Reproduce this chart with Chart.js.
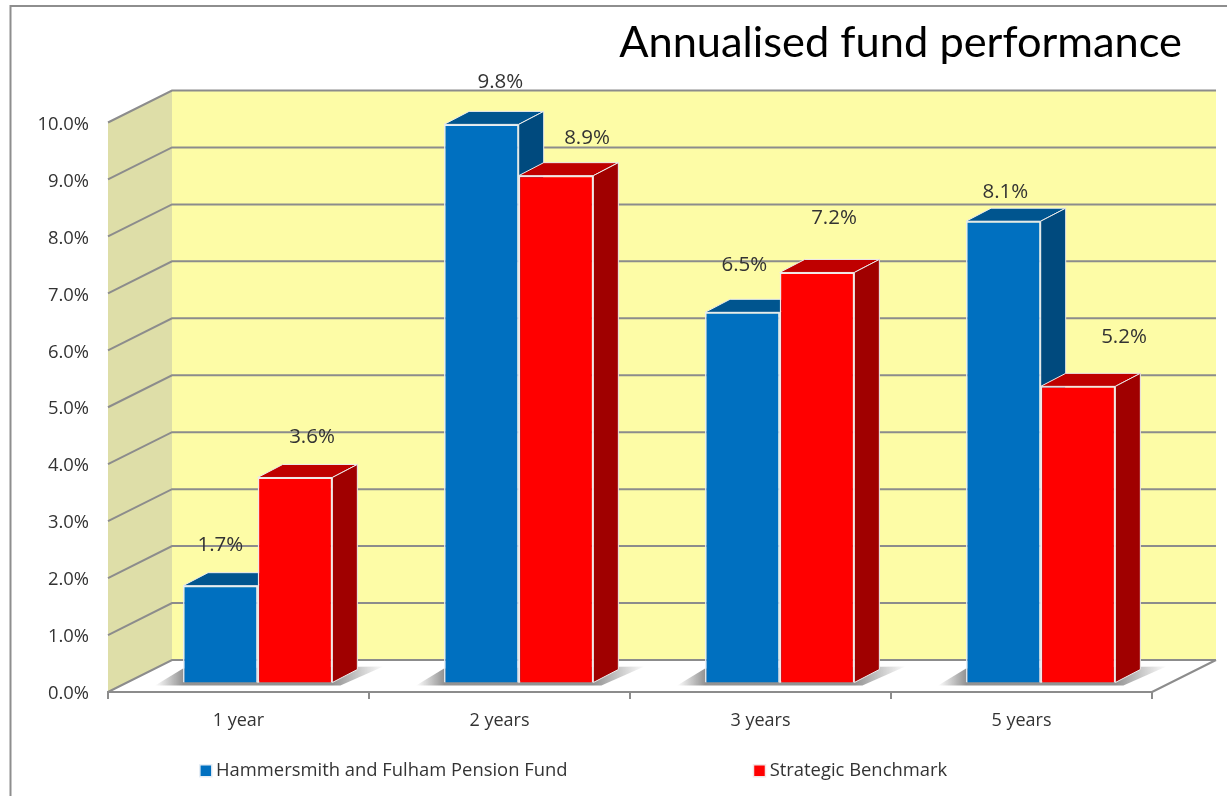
<!DOCTYPE html>
<html lang="en">
<head>
  <meta charset="UTF-8" />
  <title>Annualised fund performance</title>
  <script src="https://cdn.jsdelivr.net/npm/chart.js"></script>
  <style>
    html, body { margin: 0; padding: 0; background: #fff; }
    canvas { display: block; }
  </style>
</head>
<body>
  <canvas id="fundChart" width="1227" height="796"></canvas>

  <script>
    const categories = ['1 year', '2 years', '3 years', '5 years'];
    const fundValues = [1.7, 9.8, 6.5, 8.1];
    const benchmarkValues = [3.6, 8.9, 7.2, 5.2];
    const yTickLabels = ['0.0%', '1.0%', '2.0%', '3.0%', '4.0%', '5.0%', '6.0%', '7.0%', '8.0%', '9.0%', '10.0%'];

    // the labels were moved by hand in the original, so each one has its own nudge
    const fundLabelNudge = [[0, -41], [19, -42], [2, -47], [2, -29]];
    const benchmarkLabelNudge = [[17, -40], [31, -37], [17, -54], [46, -49]];

    const WALL_DX = 64, WALL_DY = -32;   // back wall offset
    const BAR_DX = 19.2, BAR_DY = -9.5;  // bars stand part way back on the floor
    const SIDE_DX = 25, SIDE_DY = -13;   // bar depth
    const GRID = '#8c8c8c';
    const TEXT = '#333333';
    const FONT = '"Open Sans", sans-serif';

    function poly(ctx, pts, fill, stroke) {
      ctx.beginPath();
      pts.forEach((p, i) => i ? ctx.lineTo(p[0], p[1]) : ctx.moveTo(p[0], p[1]));
      ctx.closePath();
      if (fill) { ctx.fillStyle = fill; ctx.fill(); }
      if (stroke) { ctx.strokeStyle = stroke; ctx.lineWidth = 1; ctx.stroke(); }
    }

    function drawWalls(chart) {
      const { ctx, chartArea: a, scales: { y } } = chart;
      poly(ctx, [[a.left, a.top], [a.left + WALL_DX, a.top + WALL_DY], [a.left + WALL_DX, a.bottom + WALL_DY], [a.left, a.bottom]], '#dedea8');
      poly(ctx, [[a.left + WALL_DX, a.top + WALL_DY], [a.right + WALL_DX, a.top + WALL_DY], [a.right + WALL_DX, a.bottom + WALL_DY], [a.left + WALL_DX, a.bottom + WALL_DY]], '#fdfca6');

      ctx.strokeStyle = GRID;
      ctx.lineWidth = 2;
      y.ticks.forEach((t, i) => {
        const py = y.getPixelForTick(i);
        ctx.beginPath();
        ctx.moveTo(a.left, py);
        ctx.lineTo(a.left + WALL_DX, py + WALL_DY);
        ctx.lineTo(a.right + WALL_DX, py + WALL_DY);
        ctx.stroke();
      });
      ctx.beginPath();
      ctx.moveTo(a.right, a.bottom);
      ctx.lineTo(a.right + WALL_DX, a.bottom + WALL_DY);
      ctx.stroke();
    }

    function drawShadows(chart) {
      const { ctx } = chart;
      const first = chart.getDatasetMeta(0).data;
      const second = chart.getDatasetMeta(1).data;
      first.forEach((bar, i) => {
        const L = bar.x - bar.width / 2 + BAR_DX;
        const R = second[i].x + second[i].width / 2 + BAR_DX;
        const B = bar.base + BAR_DY;
        const g = ctx.createLinearGradient(L - 28, 0, R + 52, 0);
        const span = R - L + 80;
        g.addColorStop(0, 'rgba(110,110,110,0)');
        g.addColorStop(28 / span, 'rgba(110,110,110,0.75)');
        g.addColorStop((R - L + 28) / span, 'rgba(110,110,110,0.75)');
        g.addColorStop(1, 'rgba(110,110,110,0)');
        poly(ctx, [[L - 28, B + 3], [L, B - 14], [R + SIDE_DX + 26, B - 16], [R + 8, B + 3]], g);
      });
    }

    function drawFaces(chart, index, topColor, sideColor) {
      const { ctx } = chart;
      chart.getDatasetMeta(index).data.forEach(bar => {
        const L = bar.x - bar.width / 2 + BAR_DX;
        const R = bar.x + bar.width / 2 + BAR_DX;
        const T = bar.y + BAR_DY;
        const B = bar.base + BAR_DY;
        poly(ctx, [[L, T], [L + SIDE_DX, T + SIDE_DY], [R + SIDE_DX, T + SIDE_DY], [R, T]], topColor, '#ececec');
        poly(ctx, [[R, T], [R + SIDE_DX, T + SIDE_DY], [R + SIDE_DX, B + SIDE_DY], [R, B]], sideColor, '#ececec');
      });
    }

    const bar3d = {
      id: 'bar3d',
      beforeDraw(chart) {
        // frame of the pasted slide
        const { ctx } = chart;
        ctx.save();
        ctx.strokeStyle = '#8e8e8e';
        ctx.lineWidth = 2;
        ctx.beginPath();
        ctx.moveTo(10.5, 796);
        ctx.lineTo(10.5, 6);
        ctx.lineTo(1227, 6);
        ctx.stroke();
        ctx.restore();
      },
      afterLayout(chart) {
        // title sits past the plot on the right, legend padding is only a horizontal gap
        chart.titleBlock.right += 30;
        chart.legend.top = 771 - chart.options.plugins.legend.labels.padding - 9.5;
        chart.legend.bottom = chart.height;
      },
      beforeDatasetsDraw(chart) {
        const { ctx } = chart;
        ctx.save();
        drawWalls(chart);
        drawShadows(chart);
        drawFaces(chart, 0, '#00558f', '#004a7e');
        drawFaces(chart, 1, '#bf0000', '#a00000');
        ctx.restore();
        ctx.save();
        ctx.translate(BAR_DX, BAR_DY);
      },
      afterDatasetsDraw(chart) {
        const { ctx } = chart;
        ctx.restore();
        ctx.save();
        ctx.font = '20.5px ' + FONT;
        ctx.fillStyle = TEXT;
        ctx.textAlign = 'center';
        ctx.textBaseline = 'middle';
        [fundLabelNudge, benchmarkLabelNudge].forEach((nudge, d) => {
          chart.getDatasetMeta(d).data.forEach((bar, i) => {
            const text = chart.data.datasets[d].data[i].toFixed(1) + '%';
            ctx.fillText(text, bar.x + BAR_DX + nudge[i][0], bar.y + BAR_DY + nudge[i][1]);
          });
        });
        ctx.restore();
      }
    };

    new Chart(document.getElementById('fundChart'), {
      type: 'bar',
      plugins: [bar3d],
      data: {
        labels: categories,
        datasets: [
          { label: 'Hammersmith and Fulham Pension Fund', data: fundValues, backgroundColor: '#0070c0', borderColor: '#e6eef6', borderWidth: 1.5 },
          { label: 'Strategic Benchmark', data: benchmarkValues, backgroundColor: '#ff0000', borderColor: '#f4e6e6', borderWidth: 1.5 }
        ]
      },
      options: {
        responsive: false,
        animation: false,
        layout: { padding: { left: 0, right: 75, top: 0, bottom: 0 } },
        categoryPercentage: 0.572,
        barPercentage: 1,
        clip: false,
        plugins: {
          tooltip: { enabled: false },
          title: {
            display: true,
            text: 'Annualised fund performance',
            align: 'end',
            color: '#000000',
            font: { family: 'Lato', size: 43.4, weight: 'normal', lineHeight: 1 },
            padding: { top: 21, bottom: 58.1 }
          },
          legend: {
            position: 'bottom',
            maxHeight: 30,
            labels: {
              color: TEXT,
              font: { family: FONT, size: 18.4 },
              usePointStyle: true,
              pointStyle: 'rect',
              boxWidth: 2,
              boxHeight: 12,
              padding: 191
            }
          }
        },
        scales: {
          x: {
            afterFit: s => { s.height = 74; },
            grid: { drawOnChartArea: false, color: GRID, lineWidth: 2, tickLength: 7 },
            border: { color: GRID, width: 2 },
            ticks: { color: TEXT, font: { family: FONT, size: 18 }, padding: 11 }
          },
          y: {
            min: 0,
            max: 10,
            afterFit: s => { s.width = 108; },
            grid: { display: false },
            border: { display: false },
            ticks: {
              stepSize: 1,
              color: TEXT,
              font: { family: FONT, size: 18.4 },
              padding: 11,
              labelOffset: 2,
              callback: (v, i) => yTickLabels[i]
            }
          }
        }
      }
    });
  </script>
</body>
</html>
